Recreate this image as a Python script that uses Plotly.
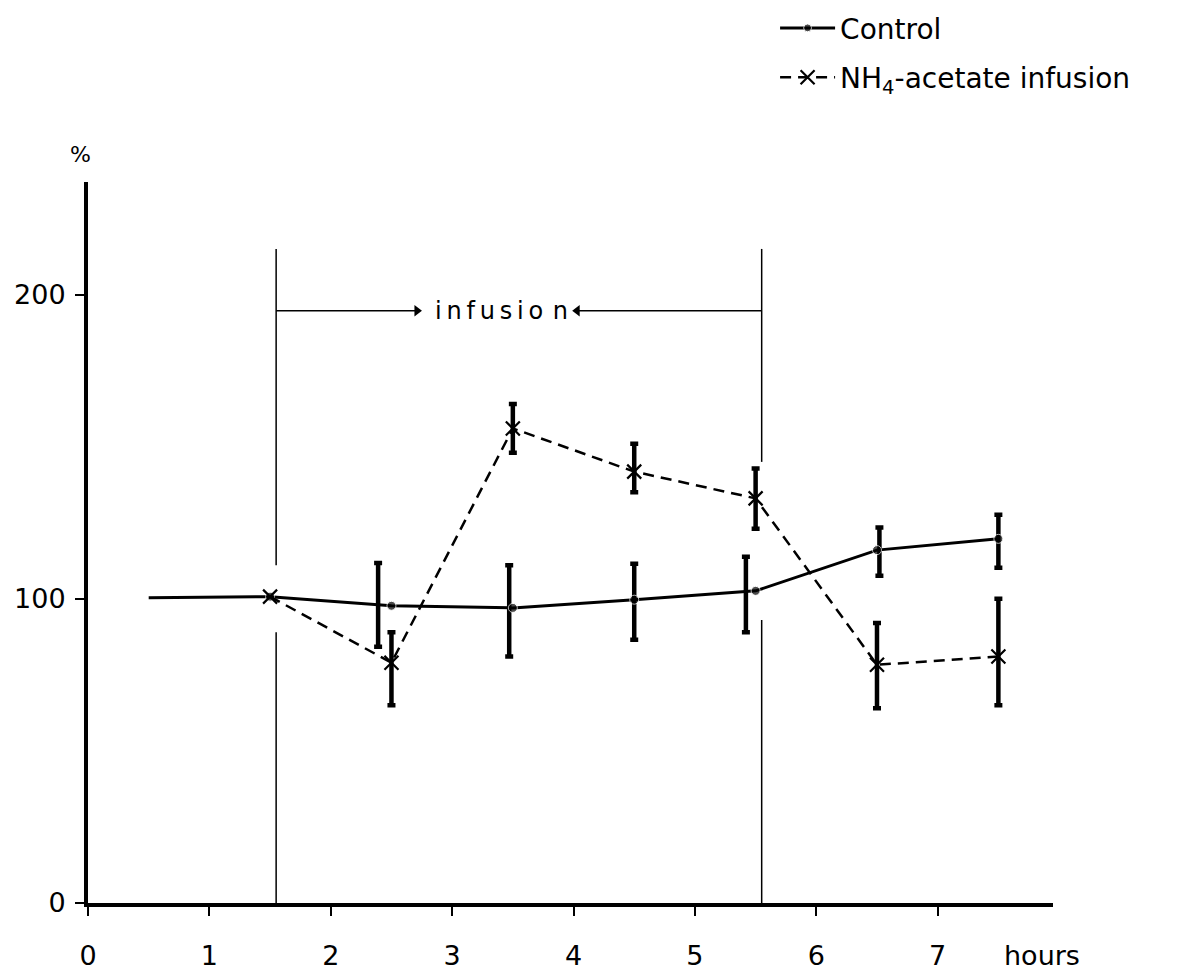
import plotly.graph_objects as go

# ---- data ----
ctrl_hours = [0.5, 1.5, 2.5, 3.5, 4.5, 5.5, 6.5, 7.5]
ctrl_vals = [100.3, 100.7, 97.7, 97.0, 99.7, 102.6, 116.0, 119.7]
ctrl_marker_size = [0, 9, 9, 9, 9, 9, 9, 9]

ctrl_err_hours = [2.39, 3.47, 4.50, 5.42, 6.52, 7.50]
ctrl_hi = [111.8, 111.0, 111.5, 113.8, 123.4, 127.6]
ctrl_lo = [84.2, 81.0, 86.5, 89.0, 107.6, 110.2]

nh4_hours = [1.5, 2.5, 3.5, 4.5, 5.5, 6.5, 7.5]
nh4_vals = [100.7, 79.0, 156.0, 141.8, 133.0, 78.3, 81.0]
nh4_err_hours = [2.5, 3.5, 4.5, 5.5, 6.5, 7.5]
nh4_hi = [89.0, 164.0, 151.0, 142.8, 92.0, 100.0]
nh4_lo = [65.0, 148.0, 135.0, 123.0, 64.0, 65.0]

x_ticks = [0, 1, 2, 3, 4, 5, 6, 7]
y_ticks = [0, 100, 200]

infusion_start = 1.55
infusion_end = 5.55
infusion_level = 194.7
infusion_top = 215
left_gap = (89, 111)
right_gap = (93, 145)
arrow_heads = (2.71, 4.03)
infusion_text_x = 3.41

FONT = "DejaVu Sans"

fig = go.Figure()

def err_trace(xs, hi, lo):
    mid = [(h + l) / 2 for h, l in zip(hi, lo)]
    half = [(h - l) / 2 for h, l in zip(hi, lo)]
    return go.Scatter(
        x=xs, y=mid, mode="markers",
        marker=dict(size=1, color="rgba(0,0,0,0)"),
        error_y=dict(type="data", array=half, visible=True,
                     color="black", thickness=4.5, width=4),
        showlegend=False, hoverinfo="skip")

fig.add_trace(err_trace(ctrl_err_hours, ctrl_hi, ctrl_lo))
fig.add_trace(err_trace(nh4_err_hours, nh4_hi, nh4_lo))

fig.add_trace(go.Scatter(
    x=ctrl_hours, y=ctrl_vals, mode="lines+markers", name="Control",
    line=dict(color="black", width=3),
    marker=dict(symbol="circle", size=ctrl_marker_size, color="black"),
    legendgroup="a"))

fig.add_trace(go.Scatter(
    x=nh4_hours, y=nh4_vals, mode="lines+markers",
    name="NH<sub>4</sub>-acetate infusion",
    line=dict(color="black", width=2.5, dash="11px,7px"),
    marker=dict(symbol="x-thin", size=14, line=dict(color="black", width=2.2)),
    legendgroup="b"))

# arrowheads of the infusion marker
fig.add_trace(go.Scatter(
    x=list(arrow_heads), y=[infusion_level, infusion_level], mode="markers",
    marker=dict(symbol=["triangle-right", "triangle-left"], size=10, color="black"),
    showlegend=False, hoverinfo="skip"))

# infusion vertical lines with gaps and horizontal arrow shafts
shapes = []
for xv, gap in ((infusion_start, left_gap), (infusion_end, right_gap)):
    shapes.append(dict(type="line", xref="x", yref="y", x0=xv, x1=xv,
                       y0=0, y1=gap[0], line=dict(color="black", width=1.5)))
    shapes.append(dict(type="line", xref="x", yref="y", x0=xv, x1=xv,
                       y0=gap[1], y1=infusion_top, line=dict(color="black", width=1.5)))
for x0, x1 in ((infusion_start, arrow_heads[0]), (infusion_end, arrow_heads[1])):
    shapes.append(dict(type="line", xref="x", yref="y", x0=x0, x1=x1,
                       y0=infusion_level, y1=infusion_level,
                       line=dict(color="black", width=1.5)))

annotations = [
    dict(x=infusion_text_x, y=infusion_level, xref="x", yref="y",
         text="i\u2009n\u2009f\u2009u\u2009s\u2009i\u2009o\u2009\u2009n", showarrow=False,
         font=dict(family=FONT, size=24, color="black"), xanchor="center", yanchor="middle"),
    dict(x=-0.008, y=1.0375, xref="paper", yref="paper", text="%", showarrow=False,
         font=dict(family=FONT, size=22, color="black"), xanchor="center", yanchor="middle"),
    dict(x=7.86, y=0, xref="x", yref="y", yshift=-52, text="hours", showarrow=False,
         font=dict(family=FONT, size=27, color="black"), xanchor="center", yanchor="middle"),
]

fig.update_layout(
    width=1192, height=973,
    margin=dict(l=88, r=139, t=182, b=70, autoexpand=False),
    plot_bgcolor="white", paper_bgcolor="white",
    font=dict(family=FONT, color="black"),
    shapes=shapes, annotations=annotations,
    showlegend=True,
    legend=dict(x=0.712, y=1.248, xanchor="left", yanchor="top",
                font=dict(family=FONT, size=28, color="black"),
                itemwidth=55, traceorder="grouped", tracegroupgap=10,
                bgcolor="rgba(0,0,0,0)"),
    xaxis=dict(range=[0, 7.95], showgrid=False, zeroline=False, automargin=False,
               showline=True, linecolor="black", linewidth=4,
               tickmode="array", tickvals=x_ticks, ticktext=[str(t) for t in x_ticks],
               ticks="outside", ticklen=9, tickwidth=2, tickcolor="black",
               ticklabelstandoff=17,
               tickfont=dict(family=FONT, size=27, color="black")),
    yaxis=dict(range=[0, 237], showgrid=False, zeroline=False, automargin=False,
               showline=True, linecolor="black", linewidth=4,
               tickmode="array", tickvals=y_ticks, ticktext=[str(t) for t in y_ticks],
               ticks="outside", ticklen=9, tickwidth=2, tickcolor="black",
               ticklabelstandoff=4,
               tickfont=dict(family=FONT, size=27, color="black")),
)

fig.write_html("out.html")
